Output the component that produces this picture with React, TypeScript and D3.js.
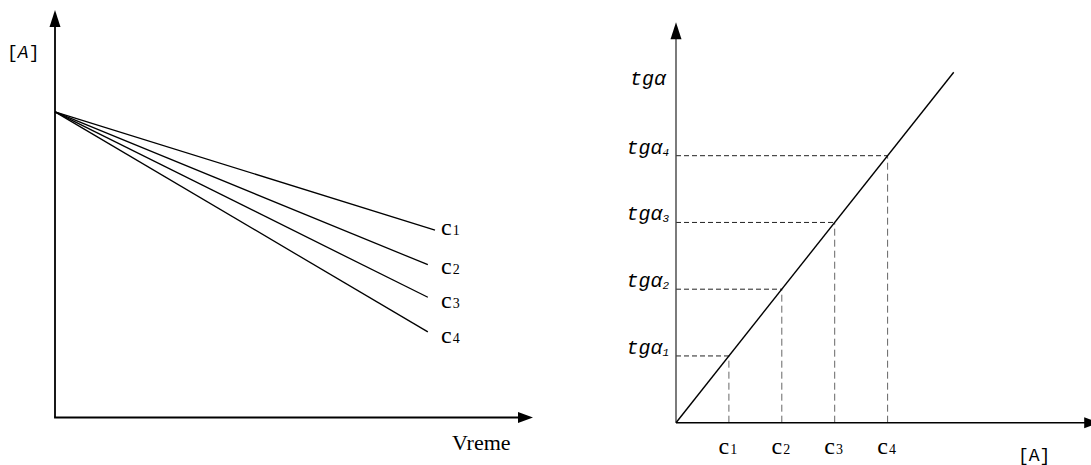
import React from "react";
import * as d3 from "d3";

// Left chart: concentration [A] vs time for four concentrations
const leftSeries = ["1", "2", "3", "4"];
const leftStartValue = 7.5;
const leftEndTimes = [7.95, 7.8, 7.8, 7.8];
const leftEndValues = [4.6, 3.75, 2.95, 2.1];
const leftLabelValues = [4.5, 3.55, 2.7, 1.85];

// Right chart: tg(alpha) vs [A]
const rightC = [1, 2, 3, 4];
const rightTg = [1, 2, 3, 4];
const rightLineEnd = 5.25;
const tgSub = ["1", "2", "3", "4"];

const W = 1091;
const H = 465;

export default function App() {
  // left scales
  const lx = d3.scaleLinear().domain([0, 10]).range([55, 533]);
  const ly = d3.scaleLinear().domain([0, 10]).range([417.5, 10]);
  // right scales
  const rx = d3.scaleLinear().domain([0, 8]).range([676, 1099.2]);
  const ry = d3.scaleLinear().domain([0, 6]).range([422.7, 22.2]);

  const line = d3.line<[number, number]>();

  const serif = "'Liberation Serif', 'Times New Roman', serif";
  const mono = "'Liberation Mono', 'Courier New', monospace";

  return (
    <svg
      width={W}
      height={H}
      style={{ position: "absolute", left: 0, top: 0, background: "#fff" }}
    >
      {/* ===== LEFT CHART ===== */}
      <g>
        {/* axes */}
        <line x1={lx(0)} y1={ly(0)} x2={lx(0)} y2={ly(10) + 15} stroke="#000" strokeWidth={1.8} />
        <line x1={lx(0) - 0.9} y1={ly(0)} x2={lx(10) - 14} y2={ly(0)} stroke="#000" strokeWidth={1.8} />
        <path
          d={`M${lx(0)},${ly(10)} L${lx(0) - 5.5},${ly(10) + 17} L${lx(0) + 5.5},${ly(10) + 17} Z`}
          fill="#000"
        />
        <path
          d={`M${lx(10)},${ly(0)} L${lx(10) - 15},${ly(0) - 5.5} L${lx(10) - 15},${ly(0) + 5.5} Z`}
          fill="#000"
        />
        {/* lines */}
        {leftSeries.map((s, i) => (
          <path
            key={s}
            d={line([
              [lx(0), ly(leftStartValue)],
              [lx(leftEndTimes[i]), ly(leftEndValues[i])],
            ])!}
            stroke="#000"
            strokeWidth={1.3}
            fill="none"
          />
        ))}
        {/* labels */}
        {leftSeries.map((s, i) => (
          <text key={s} x={441} y={ly(leftLabelValues[i]) + 1} fontFamily={serif} fill="#000">
            <tspan fontSize={24}>c</tspan>
            <tspan fontSize={14} dx={1}>{s}</tspan>
          </text>
        ))}
        <text x={7} y={58} fontFamily={mono} fontSize={18} fill="#000">
          [<tspan fontStyle="italic">A</tspan>]
        </text>
        <text x={452} y={450} fontFamily={serif} fontSize={22} fill="#000">
          Vreme
        </text>
      </g>

      {/* ===== RIGHT CHART ===== */}
      <g>
        {/* dashed guides */}
        {rightC.map((c, i) => (
          <g key={c}>
            <line
              x1={rx(0)}
              y1={ry(rightTg[i])}
              x2={rx(c)}
              y2={ry(rightTg[i])}
              stroke="#222"
              strokeWidth={1}
              strokeDasharray="5,3"
            />
            <line
              x1={rx(c)}
              y1={ry(0)}
              x2={rx(c)}
              y2={ry(rightTg[i])}
              stroke="#666"
              strokeWidth={1}
              strokeDasharray="7,4"
            />
          </g>
        ))}
        {/* axes */}
        <line x1={rx(0)} y1={ry(0)} x2={rx(0)} y2={ry(6) + 15} stroke="#444" strokeWidth={1.4} />
        <line x1={rx(0)} y1={ry(0)} x2={rx(8) - 14} y2={ry(0)} stroke="#000" strokeWidth={1.6} />
        <path
          d={`M${rx(0)},${ry(6)} L${rx(0) - 5.5},${ry(6) + 17} L${rx(0) + 5.5},${ry(6) + 17} Z`}
          fill="#000"
        />
        <path
          d={`M${rx(8)},${ry(0)} L${rx(8) - 15},${ry(0) - 5.5} L${rx(8) - 15},${ry(0) + 5.5} Z`}
          fill="#000"
        />
        {/* main line */}
        <path
          d={line([
            [rx(0), ry(0)],
            [rx(rightLineEnd), ry(rightLineEnd)],
          ])!}
          stroke="#000"
          strokeWidth={1.4}
          fill="none"
        />
        {/* y labels */}
        <text
          x={666}
          y={ry(5) - 4}
          fontFamily={mono}
          fontStyle="italic"
          fontSize={20}
          textAnchor="end"
          fill="#000"
        >
          tgα
        </text>
        {rightTg.map((t, i) => (
          <text
            key={t}
            x={669}
            y={ry(t) - 2}
            fontFamily={mono}
            fontStyle="italic"
            fontSize={20}
            textAnchor="end"
            fill="#000"
          >
            tgα
            <tspan fontSize={11} dy={2}>
              {tgSub[i]}
            </tspan>
          </text>
        ))}
        {/* x labels */}
        {rightC.map((c, i) => (
          <text key={c} x={rx(c) - 1} y={454} fontFamily={serif} textAnchor="middle" fill="#000">
            <tspan fontSize={24}>c</tspan>
            <tspan fontSize={14} dx={1}>{tgSub[i]}</tspan>
          </text>
        ))}
        <text x={1018} y={461} fontFamily={mono} fontSize={18} fill="#000">
          [A]
        </text>
      </g>
    </svg>
  );
}
